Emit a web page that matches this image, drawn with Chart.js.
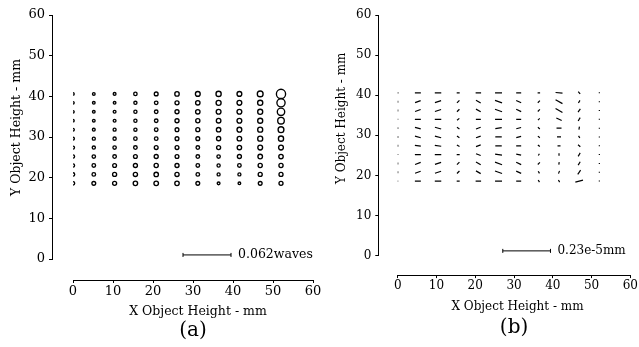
<!DOCTYPE html>
<html>
<head>
<meta charset="utf-8">
<script src="https://cdn.jsdelivr.net/npm/chart.js@4.4.1/dist/chart.umd.min.js"></script>
<style>
  html, body { margin: 0; padding: 0; background: #fff; }
  body { width: 639px; height: 347px; position: relative; overflow: hidden; }
  .panel { position: absolute; top: 0; }
  #wrapA { left: 0; }
  #wrapB { left: 320px; }
</style>
</head>
<body>
<div class="panel" id="wrapA"><canvas id="chartA" width="330" height="347"></canvas></div>
<div class="panel" id="wrapB"><canvas id="chartB" width="319" height="347"></canvas></div>
<script>
// field grid (mm), same for both plots
const fieldX = [0, 5.2, 10.4, 15.6, 20.8, 26, 31.2, 36.4, 41.6, 46.8, 52];
const fieldY = [40.6, 38.4, 36.2, 34, 31.8, 29.6, 27.4, 25.2, 23, 20.8, 18.6];
const axisTicks = [0, 10, 20, 30, 40, 50, 60];

// (a) rms wavefront error in milliwaves, one row per fieldY (top to bottom)
const rmsRows = [
    [3.1, 3.4, 3.6, 4.4, 4.9, 5.7, 6.2, 6.7, 6.2, 7.5, 11.9],
    [3.1, 3.4, 3.4, 4.1, 4.6, 5.2, 5.7, 6.5, 6.2, 6.7, 10.6],
    [3.1, 3.4, 3.6, 4.1, 4.6, 5.2, 5.7, 6.2, 6.2, 6.5, 9.6],
    [3.1, 3.4, 3.6, 4.1, 4.6, 5.2, 5.4, 5.9, 6.2, 6.5, 8.5],
    [3.4, 3.6, 3.9, 4.1, 4.6, 4.9, 5.2, 5.7, 6.2, 6.5, 7.5],
    [3.6, 3.9, 4.1, 4.4, 4.6, 4.9, 4.9, 5.4, 5.9, 6.5, 6.7],
    [3.9, 4.1, 4.4, 4.6, 4.9, 4.9, 4.6, 5.2, 5.7, 6.2, 6.2],
    [4.1, 4.4, 4.6, 4.9, 5.2, 4.9, 4.6, 4.4, 5.2, 5.9, 5.7],
    [4.1, 4.6, 4.9, 5.2, 5.4, 5.2, 4.6, 4.1, 4.6, 5.4, 5.4],
    [4.4, 4.6, 5.2, 5.4, 5.7, 5.4, 4.6, 3.9, 3.9, 5.2, 5.2],
    [4.4, 4.9, 5.2, 5.7, 5.9, 5.7, 4.9, 3.6, 3.4, 4.9, 5.2]
];
const waveBar = [27.5, 39.5];
const waveBarY = 1;
const waveBarValue = 62;          // milliwaves
const waveBarText = "0.062waves";

// (b) error vectors, one column per fieldX (top to bottom)
// angle in degrees (counter-clockwise), length in 1e-7 mm
const vecAngleCols = [
    [0, 90, 90, 90, 90, 90, 90, 90, 90, 90, 0],
    [0, 20, 20, 0, -15, -15, -8, 0, 20, 20, 0],
    [0, 18, 18, 0, -15, -15, -8, 0, 18, 18, 0],
    [0, 45, 45, 40, -35, -35, -30, 0, 45, 45, 0],
    [0, -30, -30, 0, 20, 20, 20, -20, -30, -30, 0],
    [0, -20, -20, 0, 8, 0, 0, -8, -20, -20, 0],
    [0, -25, -25, 0, 15, 15, 0, -10, -25, -25, 0],
    [0, 45, 45, 45, -40, -40, -40, 60, 45, -60, -60],
    [-5, -30, -30, -25, 0, 0, 0, 90, 80, 70, -60],
    [-50, 60, 55, 60, 80, -60, -40, 60, 60, 55, 15],
    [90, 90, 90, 90, 90, 90, 90, 90, 90, 90, 90]
];
const vecLenCols = [
    [0.72, 0.96, 0.96, 0.48, 0.96, 0.96, 0.96, 0.48, 0.96, 0.96, 0.48],
    [2.87, 2.87, 2.87, 2.87, 2.87, 2.87, 2.87, 2.87, 2.87, 2.87, 2.87],
    [3.11, 3.11, 3.11, 3.11, 3.11, 3.11, 3.11, 3.11, 3.11, 3.11, 3.11],
    [1.44, 1.68, 1.68, 1.44, 1.44, 1.44, 1.44, 1.44, 1.68, 1.68, 1.44],
    [2.63, 2.63, 2.63, 2.4, 2.4, 2.4, 2.4, 2.4, 2.63, 2.63, 2.63],
    [3.35, 3.59, 3.59, 3.35, 3.11, 3.11, 3.11, 3.35, 3.59, 3.59, 3.35],
    [2.4, 2.63, 2.63, 2.4, 2.4, 2.4, 2.4, 2.4, 2.63, 2.63, 2.4],
    [1.2, 1.44, 1.44, 1.2, 1.2, 1.2, 1.2, 0.96, 1.44, 1.2, 1.2],
    [3.35, 3.83, 3.83, 2.87, 2.4, 1.92, 1.44, 1.2, 1.2, 1.44, 1.2],
    [1.44, 1.44, 1.92, 1.92, 1.44, 1.2, 1.44, 1.92, 1.92, 2.4, 3.83],
    [0.48, 0.48, 0.48, 0.48, 0.48, 0.48, 0.48, 0.48, 0.48, 0.48, 0.48]
];
const mmBar = [27.1, 39.4];
const mmBarY = 1.2;
const mmBarValue = 23;            // 1e-7 mm
const mmBarText = "0.23e-5mm";

Chart.defaults.font.family = '"DejaVu Serif", serif';
Chart.defaults.color = "#000";

// longitud en pixeles de la barra de escala
function barPixels(chart, bar) {
    const xs = chart.scales.x;
    return xs.getPixelForValue(bar[1]) - xs.getPixelForValue(bar[0]);
}

// mueve solo el titulo de un eje
function shiftTitle(scale, dx, dy) {
    scale.drawTitle = function () {
        const box = { left: this.left, right: this.right, top: this.top, bottom: this.bottom };
        this.left += dx; this.right += dx;
        this.top += dy; this.bottom += dy;
        Chart.Scale.prototype.drawTitle.call(this);
        Object.assign(this, box);
    };
}

// ejes separados del area de datos, como en el original
const detachAxes = {
    id: "detachAxes",
    afterLayout(chart, args, opts) {
        const { x, y } = chart.scales;
        y.left -= opts.gap;
        y.right -= opts.gap;
        x.top += opts.gap;
        x.bottom += opts.gap;
        shiftTitle(x, opts.xTitleShift, 0);
        shiftTitle(y, 0, opts.yTitleShift);
    }
};

// texto junto a la barra de escala
const barLabel = {
    id: "barLabel",
    afterDraw(chart, args, opts) {
        const { ctx, scales: { x, y } } = chart;
        ctx.save();
        ctx.font = opts.size + 'px "DejaVu Serif"';
        ctx.fillStyle = "#000";
        ctx.textBaseline = "middle";
        ctx.fillText(opts.text, x.getPixelForValue(opts.x) + 7, y.getPixelForValue(opts.y));
        ctx.restore();
    }
};

function barDataset(bar, barY) {
    return {
        data: [{ x: bar[0], y: barY }, { x: bar[1], y: barY }],
        showLine: true,
        borderColor: "#000",
        borderWidth: 1,
        pointStyle: "line",
        pointRotation: 90,
        pointRadius: 2,
        pointBorderWidth: 1,
        pointBorderColor: "#000"
    };
}

function panelChart(id, p) {
    return new Chart(document.getElementById(id), {
        type: "scatter",
        data: { datasets: p.datasets },
        options: {
            responsive: false,
            animation: false,
            events: [],
            layout: { padding: p.padding },
            plugins: {
                legend: { display: false },
                tooltip: { enabled: false },
                title: {
                    display: true,
                    text: p.caption,
                    position: "bottom",
                    fullSize: false,
                    color: "#000",
                    font: { size: 20, weight: "normal" },
                    padding: p.captionPad
                },
                detachAxes: { gap: p.gap, xTitleShift: p.xTitleShift, yTitleShift: p.yTitleShift },
                barLabel: { text: p.barText, x: p.bar[1], y: p.barY, size: p.font }
            },
            scales: {
                x: {
                    type: "linear", min: 0, max: 60,
                    afterBuildTicks: s => { s.ticks = axisTicks.map(v => ({ value: v })); },
                    afterFit: s => { s.height = p.xHeight; },
                    border: { color: "#000", width: 1 },
                    grid: { drawOnChartArea: false, color: "#000", tickLength: 3 },
                    ticks: { color: "#000", padding: 1, maxRotation: 0, autoSkip: false, font: { size: p.tickFont } },
                    title: { display: true, text: "X Object Height - mm", color: "#000", font: { size: p.font }, padding: 0 }
                },
                y: {
                    type: "linear", min: 0, max: 60,
                    afterBuildTicks: s => { s.ticks = axisTicks.map(v => ({ value: v })); },
                    afterFit: s => { s.width = p.yWidth; },
                    border: { color: "#000", width: 1 },
                    grid: { drawOnChartArea: false, color: "#000", tickLength: 3 },
                    ticks: { color: "#000", padding: 4, autoSkip: false, font: { size: p.tickFont } },
                    title: { display: true, text: "Y Object Height - mm", color: "#000", font: { size: p.font }, padding: { top: p.yTitlePad, bottom: 0 } }
                }
            }
        },
        plugins: [detachAxes, barLabel]
    });
}

// ===== (a) circulos =====
const spotPoints = [];
rmsRows.forEach((row, r) => row.forEach((v, c) => spotPoints.push({ x: fieldX[c], y: fieldY[r], v })));

panelChart("chartA", {
    datasets: [
        {
            data: spotPoints,
            pointStyle: "circle",
            pointRadius: ctx => ctx.raw.v / waveBarValue * barPixels(ctx.chart, waveBar) / 2,
            pointBackgroundColor: "#fff",
            pointBorderColor: "#000",
            pointBorderWidth: 1.35
        },
        barDataset(waveBar, waveBarY)
    ],
    caption: "(a)",
    captionPad: { top: 20.5, bottom: 4 },
    padding: { left: 21, top: 15, right: 17, bottom: 0 },
    gap: 21,
    xHeight: 39.5,
    yWidth: 52,
    yTitlePad: 9.5,
    xTitleShift: 5,
    yTitleShift: -9.5,
    font: 12.5,
    tickFont: 13,
    bar: waveBar, barY: waveBarY, barText: waveBarText
});

// ===== (b) vectores =====
const vecPoints = [];
fieldX.forEach((x, c) => fieldY.forEach((y, r) => {
    vecPoints.push({ x, y, a: vecAngleCols[c][r], len: vecLenCols[c][r] });
}));

panelChart("chartB", {
    datasets: [
        {
            data: vecPoints,
            pointStyle: "line",
            pointRotation: ctx => -ctx.raw.a,
            pointRadius: ctx => ctx.raw.len / mmBarValue * barPixels(ctx.chart, mmBar) / 2,
            pointBorderColor: "#000",
            pointBorderWidth: 1.2
        },
        barDataset(mmBar, mmBarY)
    ],
    caption: "(b)",
    captionPad: { top: 21.5, bottom: 7 },
    padding: { left: 19.4, top: 15, right: 8, bottom: 0 },
    gap: 19.4,
    xHeight: 38.8,
    yWidth: 58.3,
    yTitlePad: 14.5,
    xTitleShift: 3.5,
    yTitleShift: -17,
    font: 12,
    tickFont: 12,
    bar: mmBar, barY: mmBarY, barText: mmBarText
});
</script>
</body>
</html>
